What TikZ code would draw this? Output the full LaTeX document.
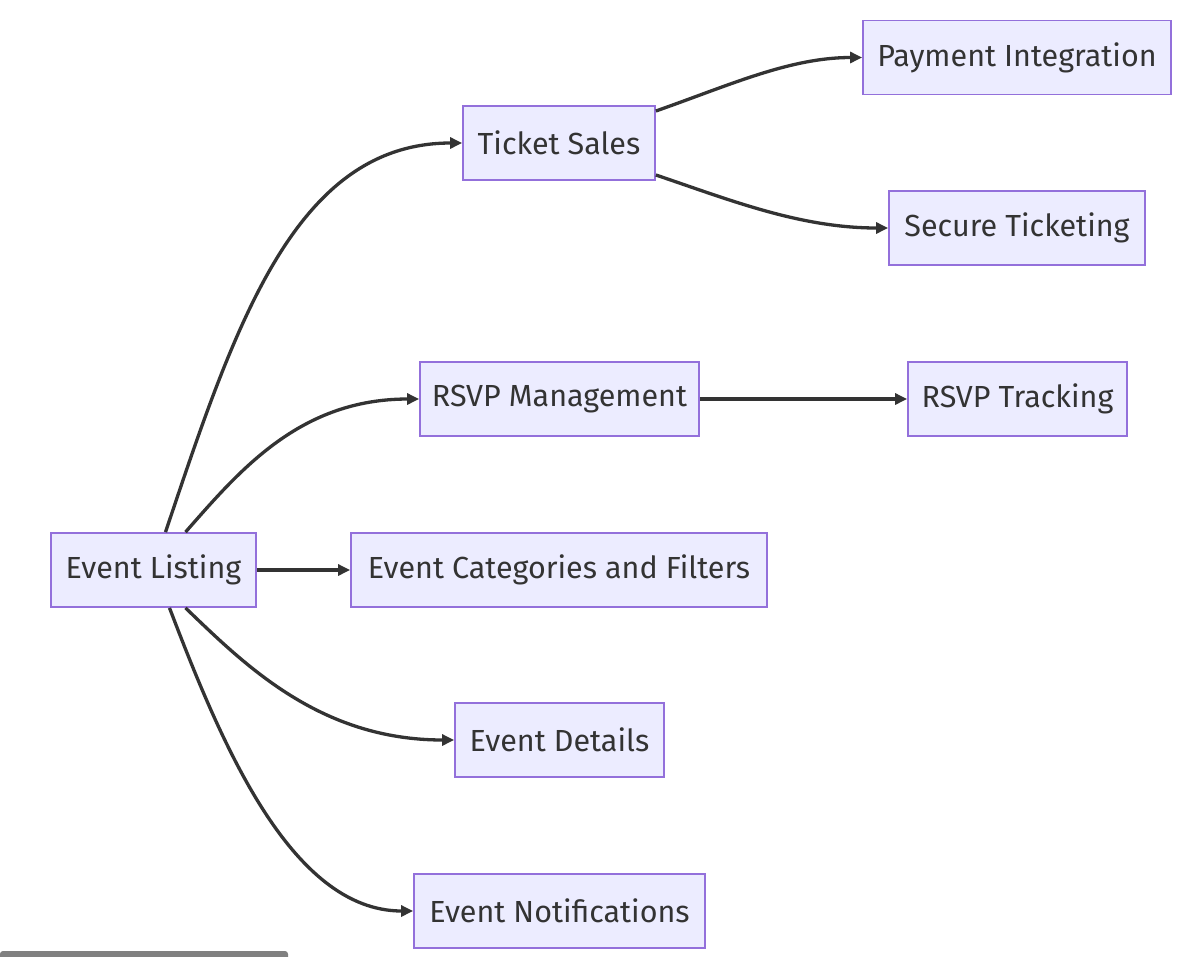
\documentclass[tikz,border=0pt]{standalone}
\usepackage{fontspec}
\setmainfont{Fira Sans}
\usetikzlibrary{arrows.meta}
\definecolor{nodefill}{HTML}{ECECFF}
\definecolor{nodeedge}{HTML}{9370DB}
\definecolor{linecol}{HTML}{333333}
\definecolor{barcol}{HTML}{808080}
\tikzset{
  box/.style={draw=nodeedge, fill=nodefill, line width=1.8pt, minimum height=74pt,
    inner sep=0pt, text=linecol, font=\fontsize{30.5}{36}\selectfont},
  link/.style={draw=linecol, line width=3.3pt, -{Triangle[length=12pt,width=11pt]}}
}
\begin{document}
\begin{tikzpicture}[x=1pt,y=-1pt]
\useasboundingbox (0,0) rectangle (1193,956);
\fill[white] (0,0) rectangle (1193,956);
\node[box, minimum width=205pt] (el) at (153.5,570) {Event Listing};
\node[box, minimum width=192pt] (ts) at (559,143) {Ticket Sales};
\node[box, minimum width=279pt] (rm) at (559.5,399) {RSVP Management};
\node[box, minimum width=416pt] (ec) at (559,570) {Event Categories and Filters};
\node[box, minimum width=209pt] (ed) at (559.5,740) {Event Details};
\node[box, minimum width=291pt] (en) at (559.5,911) {Event Notifications};
\node[box, minimum width=308pt] (pi) at (1017,57.5) {Payment Integration};
\node[box, minimum width=256pt] (st) at (1017,228) {Secure Ticketing};
\node[box, minimum width=219pt] (rt) at (1017.5,399) {RSVP Tracking};

\coordinate (elt1) at ([xshift=12pt]el.north);
\coordinate (elt2) at ([xshift=32pt]el.north);
\coordinate (elb1) at ([xshift=16pt]el.south);
\coordinate (elb2) at ([xshift=32pt]el.south);
\coordinate (tsa) at ([yshift=32pt]ts.east);
\coordinate (tsb) at ([yshift=-32pt]ts.east);

\draw[link] (elt1) .. controls (235,325) and (295,143) .. (ts.west);
\draw[link] (elt2) .. controls (240,470) and (300,399) .. (rm.west);
\draw[link] (el.east) -- (ec.west);
\draw[link] (elb2) .. controls (245,665) and (320,740) .. (ed.west);
\draw[link] (elb1) .. controls (220,740) and (290,911) .. (en.west);
\draw[link] (tsa) .. controls (730,85) and (790,57.5) .. (pi.west);
\draw[link] (tsb) .. controls (730,200) and (800,228) .. (st.west);
\draw[link] (rm.east) -- (rt.west);

\fill[barcol, rounded corners=3pt] (0,951) rectangle (288,962);
\end{tikzpicture}
\end{document}
